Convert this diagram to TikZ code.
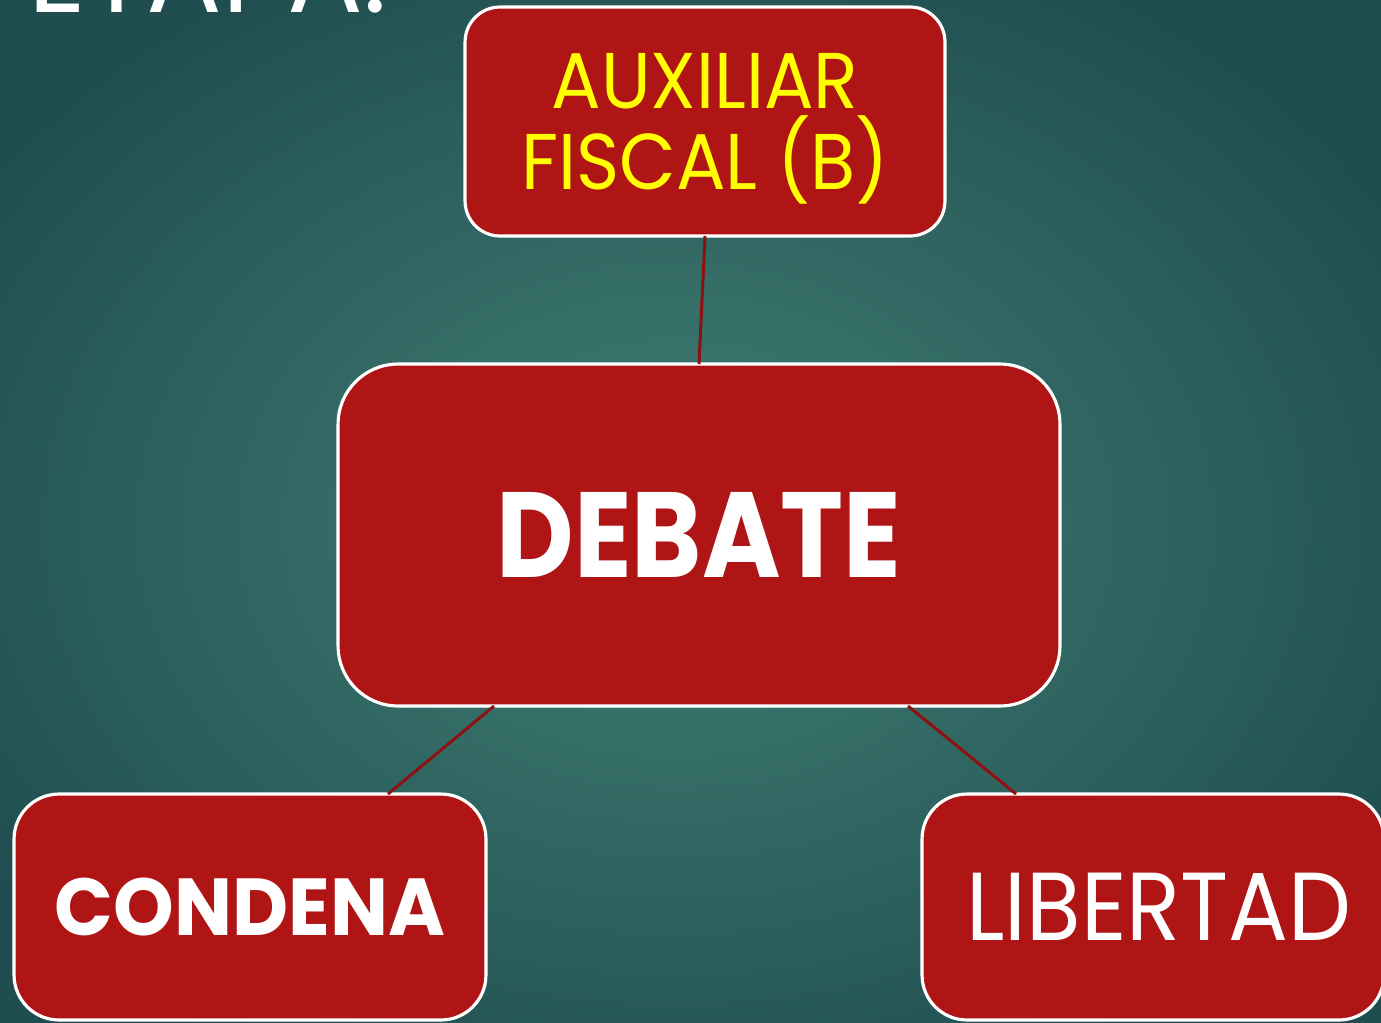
\documentclass[tikz,border=0pt]{standalone}
\usepackage{fontspec}
\setmainfont{Poppins}
\newfontfamily\fontdeb[FakeStretch=0.88]{Poppins}
\newfontfamily\fontcon[FakeStretch=0.955]{Poppins}
\newfontfamily\fontlib[FakeStretch=0.92]{Poppins}
\newfontfamily\fontaux[FakeStretch=0.93]{Poppins}
\usetikzlibrary{calc}
\definecolor{boxred}{HTML}{B01515}
\definecolor{linered}{HTML}{8E1111}
\definecolor{bginner}{HTML}{417F74}
\definecolor{bgouter}{HTML}{204E50}
\definecolor{auxyellow}{HTML}{FFFF00}
\tikzset{
  redbox/.style={draw=white, line width=1.8pt, fill=boxred, inner sep=0pt, outer sep=0pt},
  conn/.style={draw=linered, line width=1.7pt}
}
\begin{document}
\begin{tikzpicture}[x=0.02cm,y=-0.02cm]
\useasboundingbox (0,0) rectangle (1381,1022);
\clip (0,0) rectangle (1381,1022);
\shade[inner color=bginner, outer color=bgouter] (-150,-100) rectangle (1500,1150);
\node[anchor=base west, text=white, inner sep=0pt, font=\fontsize{64}{66}\selectfont] (title) at (28,12) {ETAPA:};
\node[redbox, rounded corners=0.7cm, minimum width=9.6cm, minimum height=4.58cm, text=auxyellow, align=center,
  font=\fontaux\fontsize{45}{46}\selectfont] (top) at (705,121.5)
  {AUXILIAR\\FISCAL \smash{(B)}};
\node[redbox, rounded corners=1.2cm, minimum width=14.44cm, minimum height=6.84cm, text=white,
  font=\fontdeb\fontsize{69}{70}\selectfont\bfseries] (debate) at (699,535) {DEBATE};
\node[redbox, rounded corners=0.9cm, minimum width=9.44cm, minimum height=4.52cm, text=white,
  font=\fontcon\fontsize{46}{48}\selectfont\bfseries] (condena) at (250,907) {CONDENA};
\node[redbox, rounded corners=0.9cm, minimum width=9.24cm, minimum height=4.52cm, text=white,
  font=\fontlib\fontsize{55}{56}\selectfont] (libertad) at (1153,907) {\hspace*{0.24cm}LIBERTAD};
\draw[conn] (top.south) -- (debate.north);
\draw[conn] ([xshift=3.12cm]debate.south west) -- ([xshift=-1.96cm]condena.north east);
\draw[conn] ([xshift=-3.04cm]debate.south east) -- ([xshift=1.88cm]libertad.north west);
\end{tikzpicture}
\end{document}
